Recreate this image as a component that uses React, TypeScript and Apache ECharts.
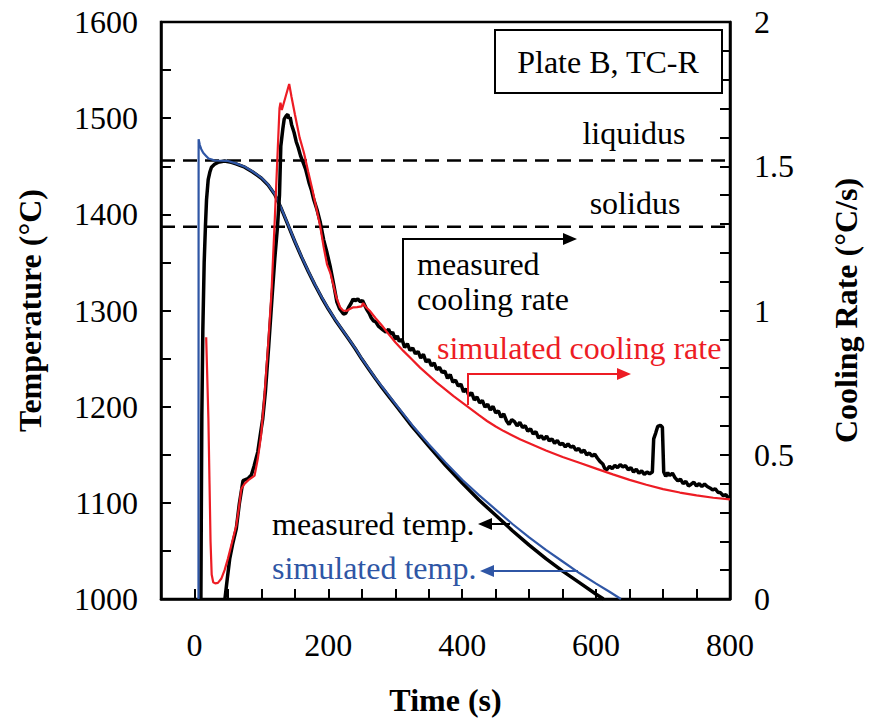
import React, { useEffect, useRef } from 'react';
import * as echarts from 'echarts';

const FONT = 'Liberation Serif';
const FS = 32;

const xTickLabels = [0, 200, 400, 600, 800];
const leftTickLabels = [1000, 1100, 1200, 1300, 1400, 1500, 1600];
const rightTickLabels = [0, 0.5, 1, 1.5, 2];

const liquidusTemp = 1456;
const solidusTemp = 1387;

const simulatedTemp: number[][] = [
  [6, 1000], [6.2, 1478], [8, 1472], [10, 1468], [13, 1464], [17, 1461], [21, 1458], [26, 1457],
  [30, 1456], [50, 1455.5], [62, 1453], [75, 1449.5], [87, 1444.5], [100, 1438], [110, 1431],
  [120, 1421], [130, 1406], [140, 1389], [150, 1372], [160, 1356], [170, 1341], [180, 1327],
  [190, 1314], [200, 1302], [210, 1291], [220, 1281], [230, 1271], [240, 1261], [250, 1250],
  [260, 1240], [270, 1230], [280, 1221], [290, 1212], [300, 1203], [325, 1181], [350, 1161],
  [375, 1142], [400, 1124], [425, 1108], [450, 1093], [475, 1078], [500, 1064], [525, 1051],
  [550, 1039], [575, 1027], [600, 1016], [620, 1007.5], [637, 1000],
];

const measuredTemp: number[][] = [
  [9.6, 1000], [10.3, 1100], [11, 1190], [12.5, 1280], [14.5, 1350], [16.4, 1388], [18, 1415],
  [20.5, 1436], [23, 1444], [25.4, 1449], [30, 1452], [35, 1454], [45, 1455.5], [55, 1454],
  [62, 1452.5], [75, 1449], [87, 1444], [100, 1437.5], [110, 1430.5], [120, 1420.5], [130, 1405.5],
  [140, 1388.5], [150, 1371.5], [160, 1355.5], [170, 1340.5], [180, 1326.5], [190, 1313.5],
  [200, 1301.5], [210, 1290.5], [220, 1280.5], [230, 1270.5], [240, 1260.5], [250, 1249.5],
  [260, 1239.5], [270, 1229.5], [280, 1220], [290, 1211], [300, 1202], [325, 1179.5],
  [350, 1159], [375, 1139], [400, 1120.5], [425, 1103], [450, 1087], [475, 1071], [500, 1056],
  [525, 1042], [550, 1029], [575, 1017], [600, 1005], [611, 1000],
];

const simulatedRate: number[][] = [
  [17.5, 0.907], [19, 0.78], [20.8, 0.625], [22.5, 0.4], [24, 0.2], [25.7, 0.085], [28, 0.058],
  [31, 0.054], [35, 0.056], [40, 0.07], [45, 0.1], [50, 0.14], [56, 0.195], [62.5, 0.255],
  [66, 0.31], [70, 0.382], [75, 0.4], [82, 0.415], [89.8, 0.428], [94.6, 0.486], [99.5, 0.567],
  [104.6, 0.705], [110, 0.88], [115, 1.06], [119.5, 1.29], [127, 1.7], [128.5, 1.72],
  [130.5, 1.695], [141.5, 1.785], [145, 1.74], [150, 1.68], [157, 1.6], [163.5, 1.547],
  [170, 1.48], [176, 1.42], [182, 1.355], [188, 1.29], [193, 1.22], [198, 1.16], [203, 1.13],
  [207.8, 1.086], [212, 1.045], [217.6, 1.011], [222, 1.0], [227.5, 0.999], [232, 1.005],
  [237.3, 1.011], [243, 1.012], [249.6, 1.014], [252, 1.026], [256, 1.012], [261.8, 0.999],
  [270, 0.975], [280, 0.948], [290, 0.918], [300, 0.89], [312, 0.86], [325, 0.83],
  [337, 0.802], [350, 0.775], [362, 0.75], [375, 0.726], [387, 0.703], [400, 0.681],
  [412, 0.66], [425, 0.637], [437, 0.617], [450, 0.598], [462, 0.582], [475, 0.567],
  [487, 0.553], [500, 0.54], [525, 0.515], [550, 0.492],
  [575, 0.472], [600, 0.452], [625, 0.432], [650, 0.413], [675, 0.396], [700, 0.381],
  [725, 0.369], [750, 0.359], [775, 0.351], [800, 0.345],
];

const measuredRate: number[][] = [
  [45.5, 0], [49, 0.07], [52.7, 0.14], [57, 0.19], [62.5, 0.244], [67, 0.33], [72.5, 0.41],
  [79.8, 0.417], [85, 0.43], [89, 0.46], [94.6, 0.51], [99, 0.58], [102, 0.625], [106, 0.72],
  [111, 0.88], [116, 1.05], [120, 1.18], [124, 1.29], [127, 1.4], [129, 1.57], [132, 1.63],
  [134, 1.663], [137, 1.675], [139.5, 1.68], [141, 1.665], [143, 1.67], [145, 1.645],
  [148.8, 1.617], [152, 1.585], [155, 1.565], [158.5, 1.536], [162, 1.515], [166, 1.49],
  [171, 1.444], [175, 1.415], [178, 1.386], [183, 1.35], [188, 1.305], [193, 1.245],
  [198, 1.2], [203, 1.15], [208, 1.09], [212.7, 1.03], [217, 1.005], [222.6, 0.988],
  [226, 0.99], [230, 1.01], [234, 1.025], [237, 1.04], [240, 1.034], [244, 1.04], [248, 1.03],
  [251, 1.035], [254, 1.02], [257, 1.005], [261, 0.99], [264, 0.975], [267, 0.965], [271, 0.96],
  [275, 0.945], [278, 0.94], [282, 0.932], [286, 0.925], [290, 0.935], [293, 0.918],
  [296, 0.925], [300, 0.9], [303, 0.912], [306, 0.893], [310, 0.9], [314, 0.872], [318, 0.885],
  [322, 0.862], [326, 0.87], [330, 0.85], [334, 0.858], [338, 0.835], [342, 0.848],
  [346, 0.822], [350, 0.83], [354, 0.808], [358, 0.818], [362, 0.795], [366, 0.803],
  [370, 0.785], [374, 0.79], [378, 0.765], [382, 0.778], [386, 0.752], [390, 0.758],
  [394, 0.738], [398, 0.745], [402, 0.718], [406, 0.728], [410, 0.705], [414, 0.715],
  [418, 0.69], [422, 0.7], [426, 0.68], [430, 0.688], [434, 0.665], [438, 0.675],
  [442, 0.655], [446, 0.668], [450, 0.645], [454, 0.652], [458, 0.63], [462, 0.642],
  [466, 0.618], [470, 0.605], [474, 0.622], [478, 0.615], [482, 0.6], [486, 0.612],
  [490, 0.595], [494, 0.6], [498, 0.582], [502, 0.59], [506, 0.572], [510, 0.58],
  [514, 0.558], [518, 0.566], [522, 0.553], [526, 0.565], [530, 0.548], [534, 0.555],
  [538, 0.54], [542, 0.55], [546, 0.535], [550, 0.54], [554, 0.527], [558, 0.538],
  [562, 0.526], [566, 0.53], [570, 0.515], [574, 0.522], [578, 0.508], [582, 0.516],
  [586, 0.5], [590, 0.506], [594, 0.495], [598, 0.502], [602, 0.488], [606, 0.476],
  [610, 0.468], [613, 0.452], [616, 0.448], [620, 0.46], [624, 0.452], [628, 0.463],
  [632, 0.455], [636, 0.466], [640, 0.458], [644, 0.462], [648, 0.448], [652, 0.455],
  [656, 0.44], [660, 0.45], [664, 0.436], [668, 0.444], [672, 0.432], [676, 0.44],
  [680, 0.434], [684, 0.44], [686, 0.555], [689, 0.575], [692, 0.598], [696, 0.602],
  [699, 0.595], [701, 0.44], [704, 0.425], [707, 0.438], [710, 0.428], [714, 0.436],
  [718, 0.42], [722, 0.41], [726, 0.415], [730, 0.4], [734, 0.408], [738, 0.392],
  [742, 0.398], [746, 0.405], [750, 0.392], [754, 0.4], [758, 0.39], [762, 0.398],
  [766, 0.39], [770, 0.385], [774, 0.378], [778, 0.382], [782, 0.37], [786, 0.368],
  [790, 0.358], [794, 0.362], [797, 0.35], [800, 0.355],
];

const BLUE = '#2F56A5';
const RED = '#ED1C24';

function txt(text: string, x: number, y: number, color = '#000', align = 'left') {
  return {
    type: 'text',
    x,
    y,
    z: 100,
    style: {
      text,
      fill: color,
      fontSize: FS,
      fontFamily: FONT,
      align,
      verticalAlign: 'middle',
      textAlign: align,
      textVerticalAlign: 'middle',
    },
  };
}

export default function App() {
  const ref = useRef<HTMLDivElement>(null);
  useEffect(() => {
    const chart = echarts.init(ref.current!, null, { renderer: 'svg' });
    const axisText = { color: '#000', fontSize: FS, fontFamily: FONT };
    const nameText = { color: '#000', fontSize: FS, fontFamily: FONT, fontWeight: 'bold' };
    const lineStyleAxis = { color: '#000', width: 2.5 };
    const tick = { inside: true, length: 10, lineStyle: { color: '#000', width: 2 } };
    const option: any = {
      animation: false,
      textStyle: { fontFamily: FONT },
      grid: {
        left: 161, right: 133, top: 22, bottom: 120,
        show: true, borderColor: '#000', borderWidth: 2.5, backgroundColor: 'transparent',
      },
      xAxis: {
        type: 'value', min: -50, max: 800, interval: 50,
        axisLine: { onZero: false, lineStyle: lineStyleAxis },
        axisTick: tick,
        splitLine: { show: false },
        axisLabel: {
          ...axisText, margin: 30,
          formatter: (v: number) => (xTickLabels.includes(v) ? String(v) : ''),
        },
        name: 'Time (s)', nameLocation: 'middle', nameGap: 85, nameTextStyle: nameText,
      },
      yAxis: [
        {
          type: 'value', min: 1000, max: 1600, interval: 50, position: 'left',
          axisLine: { show: true, onZero: false, lineStyle: lineStyleAxis },
          axisTick: tick,
          splitLine: { show: false },
          axisLabel: {
            ...axisText, margin: 23,
            formatter: (v: number) => (leftTickLabels.includes(Math.round(v)) ? String(Math.round(v)) : ''),
          },
          name: 'Temperature (°C)', nameLocation: 'middle', nameGap: 115, nameRotate: 90,
          nameTextStyle: nameText,
        },
        {
          type: 'value', min: 0, max: 2, interval: 0.1, position: 'right',
          axisLine: { show: true, onZero: false, lineStyle: lineStyleAxis },
          axisTick: tick,
          splitLine: { show: false },
          axisLabel: {
            ...axisText, margin: 24,
            formatter: (v: number) => {
              const r = Math.round(v * 10) / 10;
              return rightTickLabels.includes(r) ? String(r) : '';
            },
          },
          name: 'Cooling Rate (°C/s)', nameLocation: 'middle', nameGap: 100, nameRotate: 90,
          nameTextStyle: nameText,
        },
      ],
      series: [
        {
          type: 'line', yAxisIndex: 0, symbol: 'none', silent: true,
          data: [[-50, liquidusTemp], [800, liquidusTemp]],
          lineStyle: { color: '#000', width: 2.5, type: [14, 8] },
        },
        {
          type: 'line', yAxisIndex: 0, symbol: 'none', silent: true,
          data: [[-50, solidusTemp], [800, solidusTemp]],
          lineStyle: { color: '#000', width: 2.5, type: [14, 8] },
        },
        {
          name: 'measured temp.', type: 'line', yAxisIndex: 0, symbol: 'none',
          data: measuredTemp, lineStyle: { color: '#000', width: 3.5 },
        },
        {
          name: 'simulated temp.', type: 'line', yAxisIndex: 0, symbol: 'none',
          data: simulatedTemp, lineStyle: { color: BLUE, width: 2.2 },
        },
        {
          name: 'measured cooling rate', type: 'line', yAxisIndex: 1, symbol: 'none',
          data: measuredRate, lineStyle: { color: '#000', width: 3.5 },
        },
        {
          name: 'simulated cooling rate', type: 'line', yAxisIndex: 1, symbol: 'none',
          data: simulatedRate, lineStyle: { color: RED, width: 2.2 },
        },
      ],
      graphic: [
        {
          type: 'rect', z: 99,
          shape: { x: 495, y: 30, width: 227, height: 63 },
          style: { fill: '#fff', stroke: '#000', lineWidth: 2 },
        },
        txt('Plate B, TC-R', 608, 62, '#000', 'center'),
        txt('liquidus', 634, 133, '#000', 'center'),
        txt('solidus', 635, 203, '#000', 'center'),
        txt('measured', 417, 264),
        txt('cooling rate', 417, 299),
        txt('simulated cooling rate', 437, 348, RED),
        txt('measured temp.', 272, 524),
        txt('simulated temp.', 272, 568, BLUE),
        {
          type: 'polyline', z: 100,
          shape: { points: [[403, 340], [403, 239], [565, 239]] },
          style: { stroke: '#000', lineWidth: 2, fill: null },
        },
        {
          type: 'polygon', z: 100,
          shape: { points: [[577, 239], [563, 233], [563, 245]] },
          style: { fill: '#000' },
        },
        {
          type: 'polyline', z: 100,
          shape: { points: [[468, 405], [468, 374], [619, 374]] },
          style: { stroke: RED, lineWidth: 2, fill: null },
        },
        {
          type: 'polygon', z: 100,
          shape: { points: [[631, 374], [617, 368], [617, 380]] },
          style: { fill: RED },
        },
        {
          type: 'polyline', z: 100,
          shape: { points: [[510, 524], [490, 524]] },
          style: { stroke: '#000', lineWidth: 2, fill: null },
        },
        {
          type: 'polygon', z: 100,
          shape: { points: [[478, 524], [492, 518], [492, 530]] },
          style: { fill: '#000' },
        },
        {
          type: 'polyline', z: 100,
          shape: { points: [[578, 571], [492, 571]] },
          style: { stroke: BLUE, lineWidth: 2, fill: null },
        },
        {
          type: 'polygon', z: 100,
          shape: { points: [[480, 571], [494, 565], [494, 577]] },
          style: { fill: BLUE },
        },
      ],
    };
    chart.setOption(option);
    return () => chart.dispose();
  }, []);
  return (
    <div
      ref={ref}
      style={{ position: 'fixed', left: 0, top: 0, width: 870, height: 721, background: '#fff' }}
    />
  );
}
